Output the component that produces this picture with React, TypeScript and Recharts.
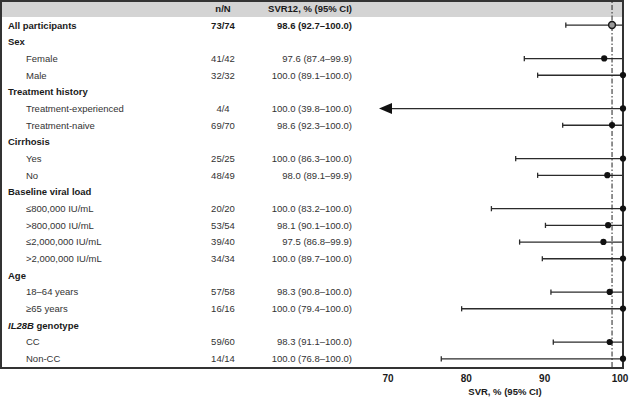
import {
  ComposedChart,
  Bar,
  Line,
  XAxis,
  YAxis,
  ReferenceLine,
} from "recharts";

const ROW_LABELS = [
  "All participants",
  "Sex",
  "Female",
  "Male",
  "Treatment history",
  "Treatment-experienced",
  "Treatment-naive",
  "Cirrhosis",
  "Yes",
  "No",
  "Baseline viral load",
  "≤800,000 IU/mL",
  ">800,000 IU/mL",
  "≤2,000,000 IU/mL",
  ">2,000,000 IU/mL",
  "Age",
  "18–64 years",
  "≥65 years",
  "IL28B genotype",
  "CC",
  "Non-CC",
];
// total | group | item
const ROW_KIND = [
  "total", "group", "item", "item", "group", "item", "item", "group", "item", "item",
  "group", "item", "item", "item", "item", "group", "item", "item", "group", "item", "item",
];
const N_OVER_N = [
  "73/74", "", "41/42", "32/32", "", "4/4", "69/70", "", "25/25", "48/49",
  "", "20/20", "53/54", "39/40", "34/34", "", "57/58", "16/16", "", "59/60", "14/14",
];
const SVR = [
  98.6, null, 97.6, 100.0, null, 100.0, 98.6, null, 100.0, 98.0,
  null, 100.0, 98.1, 97.5, 100.0, null, 98.3, 100.0, null, 98.3, 100.0,
];
const CI_LOW = [
  92.7, null, 87.4, 89.1, null, 39.8, 92.3, null, 86.3, 89.1,
  null, 83.2, 90.1, 86.8, 89.7, null, 90.8, 79.4, null, 91.1, 76.8,
];
const CI_HIGH = [
  100.0, null, 99.9, 100.0, null, 100.0, 100.0, null, 100.0, 99.9,
  null, 100.0, 100.0, 99.9, 100.0, null, 100.0, 100.0, null, 100.0, 100.0,
];
const X_TICKS = [70, 80, 90, 100];
const OVERALL_SVR = 98.6;
// left end of the axis; intervals reaching past it get an arrow
const X_MIN = 68.85;

const FONT = "'Liberation Sans', Arial, Helvetica, sans-serif";
const FS = 9.5;
const INK = "#2b2b2b";

const fmt = (v: number) => v.toFixed(1);

const rows = [
  { id: "hdr", kind: "header", label: "", nN: "n/N", text: "SVR12, % (95% CI)", svr: null, ci: null, truncated: false },
  ...ROW_LABELS.map((label, i) => {
    const lo = CI_LOW[i];
    const hi = CI_HIGH[i];
    const v = SVR[i];
    return {
      id: "r" + i,
      kind: ROW_KIND[i],
      label,
      nN: N_OVER_N[i],
      text: v != null && lo != null && hi != null ? `${fmt(v)} (${fmt(lo)}–${fmt(hi)})` : "",
      svr: v,
      ci: lo != null && hi != null ? [Math.max(lo, X_MIN), hi] : null,
      truncated: lo != null && lo < X_MIN,
    };
  }),
];

const rowById = (id: string) => rows.find((r) => r.id === id);

function TableTick(props: any) {
  const { y, payload } = props;
  const row = rowById(payload.value);
  if (!row) return <g />;
  const bold = row.kind !== "item";
  const weight = bold ? 700 : 400;
  const fill = bold ? "#1a1a1a" : "#333";
  const strong = row.kind === "header" || row.kind === "total" ? 700 : 400;
  const isGene = row.label.startsWith("IL28B");
  return (
    <g fontFamily={FONT} fontSize={FS} fill={fill}>
      {row.label && (
        <text
          x={row.kind === "item" ? 26 : 8}
          y={y}
          dominantBaseline="central"
          fontWeight={weight}
        >
          {isGene ? (
            <>
              <tspan fontStyle="italic">IL28B</tspan>
              {row.label.slice(5)}
            </>
          ) : (
            row.label
          )}
        </text>
      )}
      {row.nN && (
        <text x={223} y={y} textAnchor="middle" dominantBaseline="central" fontWeight={strong}>
          {row.nN}
        </text>
      )}
      {row.text && (
        <text x={352} y={y} textAnchor="end" dominantBaseline="central" fontWeight={strong}>
          {row.text}
        </text>
      )}
    </g>
  );
}

function CiShape(props: any) {
  const { x, y, width, height, payload } = props;
  if (!payload || !payload.ci || x == null || isNaN(x)) return <g />;
  const cy = y + height / 2;
  const x2 = x + width;
  if (payload.truncated) {
    return (
      <g>
        <line x1={x + 12} y1={cy} x2={x2} y2={cy} stroke={INK} strokeWidth={1.3} />
        <polygon
          points={`${x},${cy} ${x + 13},${cy - 5.5} ${x + 13},${cy + 5.5}`}
          fill="#111"
        />
      </g>
    );
  }
  return (
    <g>
      <line x1={x} y1={cy} x2={x2} y2={cy} stroke={INK} strokeWidth={1.3} />
      <line x1={x} y1={cy - 2.6} x2={x} y2={cy + 2.6} stroke={INK} strokeWidth={1.3} />
    </g>
  );
}

function PointDot(props: any) {
  const { cx, cy, payload, index } = props;
  if (cx == null || cy == null || !payload || payload.svr == null) return <g key={"d" + index} />;
  if (payload.kind === "total") {
    return (
      <circle key={"d" + index} cx={cx} cy={cy} r={3.4} fill="#9a9a9a" stroke="#1a1a1a" strokeWidth={1.5} />
    );
  }
  return <circle key={"d" + index} cx={cx} cy={cy} r={3.1} fill="#111" />;
}

function XTick(props: any) {
  const { x, payload } = props;
  return (
    <text
      x={x}
      y={378}
      textAnchor="middle"
      dominantBaseline="central"
      fontFamily={FONT}
      fontSize={10}
      fontWeight={700}
      fill="#1a1a1a"
    >
      {payload.value}
    </text>
  );
}

export default function App() {
  return (
    <div
      style={{
        position: "absolute",
        left: 0,
        top: 0,
        width: 632,
        height: 400,
        background: "#fff",
        overflow: "hidden",
      }}
    >
      {/* Table frame */}
      <div
        style={{
          position: "absolute",
          left: 0,
          top: 0,
          width: 624,
          height: 369,
          border: "2px solid #333",
          boxSizing: "border-box",
        }}
      />
      {/* Header band */}
      <div
        style={{
          position: "absolute",
          left: 2,
          top: 2,
          width: 620,
          height: 15,
          background: "#d4d4d4",
        }}
      />

      <div style={{ position: "absolute", left: 0, top: 0 }}>
        <ComposedChart
          width={632}
          height={400}
          data={rows}
          layout="vertical"
          margin={{ top: 0, right: 9, bottom: 0, left: 319 }}
          barCategoryGap={0}
        >
          <XAxis
            type="number"
            domain={[X_MIN, 100]}
            ticks={X_TICKS}
            axisLine={false}
            tickLine={false}
            height={33}
            tick={<XTick />}
            label={(p: any) => {
              const vb = p.viewBox || { x: 379, y: 367, width: 244 };
              return (
                <text
                  x={vb.x + vb.width / 2 + 4}
                  y={391}
                  textAnchor="middle"
                  dominantBaseline="central"
                  fontFamily={FONT}
                  fontSize={FS}
                  fontWeight={700}
                  fill="#1a1a1a"
                >
                  SVR, % (95% CI)
                </text>
              );
            }}
          />
          <YAxis
            type="category"
            dataKey="id"
            width={60}
            axisLine={false}
            tickLine={false}
            interval={0}
            tick={<TableTick />}
          />
          <ReferenceLine
            x={OVERALL_SVR}
            stroke="#222"
            strokeWidth={1}
            strokeDasharray="5 2 1.5 2"
          />
          <Bar dataKey="ci" shape={<CiShape />} isAnimationActive={false} />
          <Line
            dataKey="svr"
            stroke="none"
            dot={<PointDot />}
            activeDot={false}
            isAnimationActive={false}
          />
        </ComposedChart>
      </div>
    </div>
  );
}
